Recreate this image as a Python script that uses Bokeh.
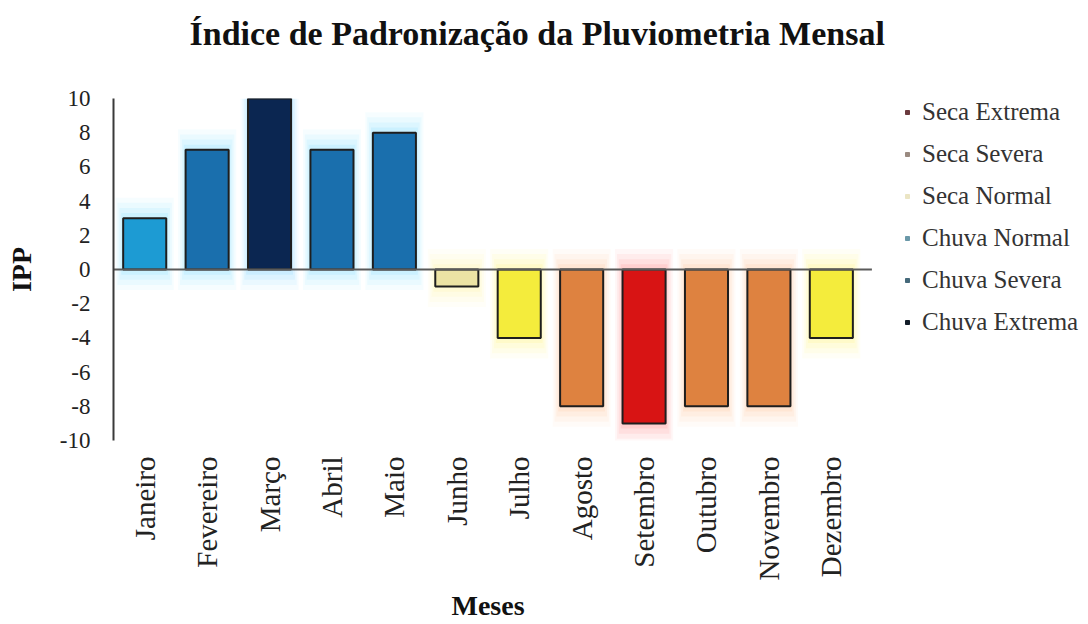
import math
from bokeh.plotting import figure
from bokeh.models import ColumnDataSource, Legend, LegendItem, Title
from bokeh.embed import file_html
from bokeh.resources import INLINE

months = ["Janeiro", "Fevereiro", "Março", "Abril", "Maio", "Junho",
          "Julho", "Agosto", "Setembro", "Outubro", "Novembro", "Dezembro"]
ipp = [3, 7, 10, 7, 8, -1, -4, -8, -9, -8, -8, -4]
bar_colors = ["#1d9bd3", "#1a6fad", "#0b2651", "#1a6fad", "#1a6fad", "#ece3a4",
              "#f4ec3c", "#de8240", "#d81414", "#de8240", "#de8240", "#f4ec3c"]
glow_colors = ["#55d8ff", "#55d0ff", "#55c8ff", "#55d0ff", "#55d0ff", "#fff27a",
               "#fff04a", "#ffb070", "#ff6060", "#ffb070", "#ffb070", "#fff04a"]

y_ticks = [-10, -8, -6, -4, -2, 0, 2, 4, 6, 8, 10]

legend_labels = ["Seca Extrema", "Seca Severa", "Seca Normal",
                 "Chuva Normal", "Chuva Severa", "Chuva Extrema"]
legend_colors = ["#6b3a3e", "#9a8a80", "#ebe5c4", "#6a98a8", "#45697a", "#121c28"]

SERIF = "Liberation Serif"
n = len(months)
xs = list(range(n))

# plot frame spans the legend area too; months occupy the left part of the x range
p = figure(x_range=(-0.5, n - 0.5 + 3.62), y_range=(-10, 10),
           width=1088, height=624, output_backend="svg", toolbar_location=None,
           min_border_left=113, min_border_right=0, min_border_top=98,
           min_border_bottom=182)
p.outline_line_color = None
p.xgrid.grid_line_color = None
p.ygrid.grid_line_color = None

# a second, blank line below the title lifts it away from the plot area
p.title.text = "Índice de Padronização da Pluviometria Mensal\n "
p.title.text_font = SERIF
p.title.text_font_style = "bold"
p.title.text_font_size = "34px"
p.title.text_color = "#111111"
p.title.align = "left"
p.title.offset = 76
p.title.vertical_align = "top"
p.title.standoff = 16

# soft glow around the bars
src = ColumnDataSource(dict(x=xs, top=ipp, color=bar_colors, glow=glow_colors))
for k, a in [(4, 0.05), (3, 0.07), (2, 0.09), (1, 0.12)]:
    gsrc = ColumnDataSource(dict(
        x=xs,
        top=[v + (0.3 * k if v > 0 else -0.3 * k) for v in ipp],
        bottom=[(-0.3 * k if v > 0 else 0.3 * k) for v in ipp],
        glow=glow_colors))
    p.vbar(x="x", top="top", bottom="bottom", width=0.69 + 0.06 * k, source=gsrc,
           fill_color="glow", fill_alpha=a, line_color=None)

p.vbar(x="x", top="top", bottom=0, width=0.69, source=src,
       fill_color="color", line_color="#1e1e1e", line_width=2)

# horizontal axis line at zero, across the months only
p.segment(x0=[-0.5], y0=[0], x1=[n - 0.5 + 0.15], y1=[0], line_color="#5a5a5a", line_width=2)

# axes
p.yaxis.ticker = y_ticks
p.yaxis.major_label_overrides = {t: str(t) for t in y_ticks}
p.yaxis.axis_line_color = "#3a3a3a"
p.yaxis.axis_line_width = 2
p.yaxis.major_tick_line_color = None
p.yaxis.minor_tick_line_color = None
p.yaxis.major_label_text_font = SERIF
p.yaxis.major_label_text_font_size = "23px"
p.yaxis.major_label_text_color = "#222222"
p.yaxis.major_label_standoff = 17
p.yaxis.axis_label = "IPP"
p.yaxis.axis_label_text_font = SERIF
p.yaxis.axis_label_text_font_style = "bold"
p.yaxis.axis_label_text_font_size = "28px"
p.yaxis.axis_label_text_color = "#111111"
p.yaxis.axis_label_standoff = 20

p.xaxis.ticker = xs
p.xaxis.major_label_overrides = {i: m for i, m in zip(xs, months)}
p.xaxis.axis_line_color = None
p.xaxis.major_tick_line_color = None
p.xaxis.minor_tick_line_color = None
p.xaxis.major_label_orientation = math.pi / 2
p.xaxis.major_label_text_font = SERIF
p.xaxis.major_label_text_font_size = "29px"
p.xaxis.major_label_text_color = "#222222"
p.xaxis.major_label_standoff = 10

# x axis title, centred under the months
p.add_layout(Title(text="Meses", align="left", offset=338,
                   text_font=SERIF, text_font_style="bold",
                   text_font_size="28px", text_color="#111111", standoff=8),
             "below")

# legend (dummy renderers with no visible data)
items = []
for lab, col in zip(legend_labels, legend_colors):
    r = p.scatter(x=[0], y=[float("nan")], marker="square", size=9,
                  fill_color=col, line_color=col)
    items.append(LegendItem(label=lab, renderers=[r]))
legend = Legend(items=items, location=(789, 103), margin=0, padding=0,
                spacing=12, label_height=30, glyph_height=30, glyph_width=10,
                label_standoff=10, border_line_color=None, background_fill_alpha=0,
                label_text_font=SERIF, label_text_font_size="25px",
                label_text_color="#333333")
p.add_layout(legend)

open("out.html", "w").write(file_html(p, INLINE))
